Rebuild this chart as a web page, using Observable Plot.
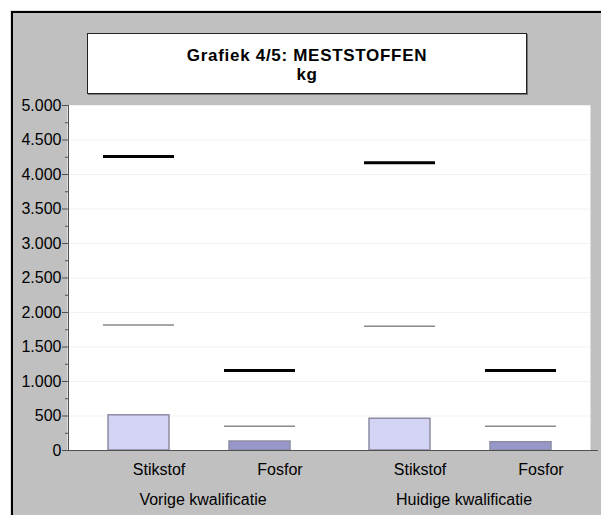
<!DOCTYPE html>
<html><head><meta charset="utf-8">
<script src="https://cdn.jsdelivr.net/npm/d3@7"></script>
<script src="https://cdn.jsdelivr.net/npm/@observablehq/plot@0.6"></script>
<style>
html,body{margin:0;padding:0;background:#fff;}
#wrap{position:relative;width:601px;height:515px;overflow:hidden;font-family:"Liberation Sans",Arial,sans-serif;}
#bg{position:absolute;left:11px;top:11px;width:600px;height:520px;background:#c0c0c0;border-left:2px solid #000;border-top:2px solid #000;box-sizing:border-box;box-shadow:-1px -1px 0 #e0e0e0;}
#titlebox{position:absolute;left:87px;top:33px;width:440px;height:61px;background:#fff;border:1px solid #222;box-shadow:1px 1px 0 #777;box-sizing:border-box;}
#title{position:absolute;left:0;right:0;top:12.1px;text-align:center;font-weight:bold;font-size:17px;letter-spacing:0.7px;line-height:19px;color:#000;white-space:nowrap;}
#chart{position:absolute;left:0;top:0;}
</style>
</head><body>
<div id="wrap">
  <div id="bg"></div>
  <div id="chart"></div>
  <div id="titlebox">
    <div id="title">Grafiek 4/5: MESTSTOFFEN<br>kg</div>
  </div>
</div>
<script>
// categories
const groups = ["Vorige kwalificatie", "Huidige kwalificatie"];
const nutrients = ["Stikstof", "Fosfor"];
// series values, order: [Vorige Stikstof, Vorige Fosfor, Huidige Stikstof, Huidige Fosfor]
const hoeveelheid = [510, 130, 460, 120];   // bars
const norm = [4260, 1160, 4170, 1160];      // thick black lines
const gemiddelde = [1820, 350, 1800, 350];  // thin grey lines
// tick values
const yTicks = [0, 500, 1000, 1500, 2000, 2500, 3000, 3500, 4000, 4500, 5000];
const yMinorTicks = [250, 750, 1250, 1750, 2250, 2750, 3250, 3750, 4250, 4750];

const rows = [];
groups.forEach((g, i) => nutrients.forEach((n, j) => {
  const k = i * nutrients.length + j;
  rows.push({groep: g, stof: n, waarde: hoeveelheid[k], norm: norm[k], gem: gemiddelde[k]});
}));

const nl = d3.formatLocale({decimal: ",", thousands: ".", grouping: [3], currency: ["€", ""]});
const fmt = nl.format(",");

const chart = Plot.plot({
  width: 601,
  height: 515,
  marginLeft: 68,
  marginRight: 11,
  marginTop: 105,
  marginBottom: 65,
  style: {background: "transparent", fontFamily: "'Liberation Sans', Arial, sans-serif", fontSize: "16px", color: "#000"},
  fx: {domain: groups, padding: 0},
  x: {domain: nutrients, paddingInner: 0.5, paddingOuter: 0.32},
  y: {domain: [0, 5000]},
  color: {domain: nutrients, range: ["#d3d3f3", "#9797c9"]},
  marks: [
    Plot.frame({fill: "white", stroke: "none", insetLeft: -1}),
    Plot.gridY({ticks: yTicks, stroke: "#f2f2f2", strokeOpacity: 1}),
    Plot.barY(rows, {fx: "groep", x: "stof", y: "waarde", fill: "stof", stroke: "#8c8ca4", strokeWidth: 1.5}),
    Plot.tickY(rows, {fx: "groep", x: "stof", y: "gem", stroke: "#8a8a8a", strokeWidth: 1.5, insetLeft: -5, insetRight: -5}),
    Plot.tickY(rows, {fx: "groep", x: "stof", y: "norm", stroke: "#000", strokeWidth: 3, insetLeft: -5, insetRight: -5}),
    Plot.frame({anchor: "left", facetAnchor: "left", stroke: "#505050"}),
    Plot.ruleY([0], {stroke: "#505050", insetRight: -8}),
    Plot.axisY({ticks: yMinorTicks, tickSize: 3, tickFormat: () => "", stroke: "#505050", label: null}),
    Plot.axisY({ticks: yTicks, tickSize: 6, tickPadding: 1, tickFormat: fmt, stroke: "#505050", fill: "#000", fontSize: 16, label: null}),
    Plot.axisX({tickSize: 0, tickPadding: 13, dx: 20, fill: "#000", fontSize: 16, label: null}),
    Plot.axisFx({anchor: "bottom", tickSize: 0, tickPadding: 43, dx: 4, fill: "#000", fontSize: 16, label: null})
  ]
});
document.getElementById("chart").appendChild(chart);
</script>
</body></html>
